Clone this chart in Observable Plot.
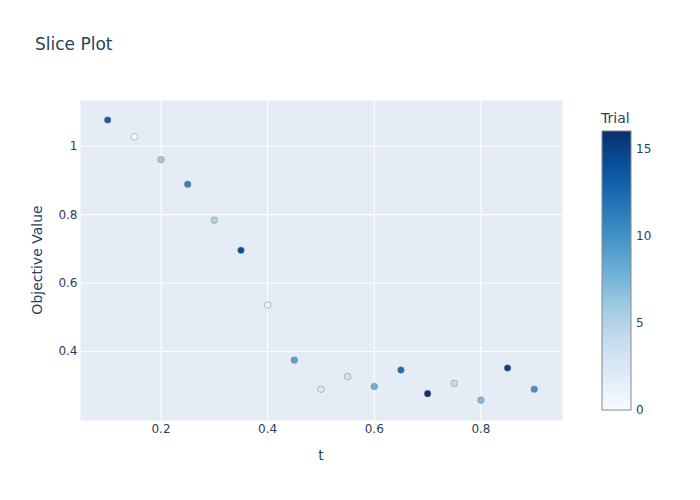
<!DOCTYPE html>
<html>
<head>
<meta charset="utf-8">
<script src="https://cdn.jsdelivr.net/npm/d3@7"></script>
<script src="https://cdn.jsdelivr.net/npm/@observablehq/plot@0.6"></script>
<style>
  html, body { margin: 0; padding: 0; background: white; }
  #wrap { position: relative; width: 700px; height: 500px; font-family: "DejaVu Sans", sans-serif; }
  #title { position: absolute; left: 35px; top: 34px; font-size: 17px; line-height: 20px; color: #2a3f5f; }
  #chart { position: absolute; left: 0; top: 0; }
</style>
</head>
<body>
<div id="wrap">
  <div id="chart"></div>
  <div id="title">Slice Plot</div>
</div>
<script>
const tValues = [0.10, 0.15, 0.20, 0.25, 0.30, 0.35, 0.40, 0.45, 0.50, 0.55, 0.60, 0.65, 0.70, 0.75, 0.80, 0.85, 0.90];
const objectiveValues = [1.077, 1.028, 0.961, 0.889, 0.784, 0.696, 0.536, 0.375, 0.290, 0.327, 0.298, 0.346, 0.277, 0.307, 0.258, 0.352, 0.290];
const trialNumbers = [13, 0, 6, 11, 5, 14, 1, 9, 2, 3, 8, 12, 16, 4, 7, 15, 10];
const xTicks = [0.2, 0.4, 0.6, 0.8];
const yTicks = [0.4, 0.6, 0.8, 1];
const colorTicks = [0, 5, 10, 15];
const bluesColors = ["rgb(247,251,255)", "rgb(222,235,247)", "rgb(198,219,239)", "rgb(158,202,225)", "rgb(107,174,214)", "rgb(66,146,198)", "rgb(33,113,181)", "rgb(8,81,156)", "rgb(8,48,107)"];

const data = tValues.map((t, i) => ({t, value: objectiveValues[i], trial: trialNumbers[i]}));
const trialMax = 16;
const colorDomain = bluesColors.map((_, i) => i * trialMax / (bluesColors.length - 1));

const W = 700, H = 500, mL = 80, mR = 138, mT = 100, mB = 80;
const textColor = "#2a3f5f";
const fontFam = "'DejaVu Sans', sans-serif";

const plot = Plot.plot({
  width: W, height: H,
  marginLeft: mL, marginRight: mR, marginTop: mT, marginBottom: mB,
  style: {fontFamily: fontFam, fontSize: "12px", color: textColor, background: "white"},
  x: {domain: [0.049, 0.953]},
  y: {domain: [0.1985, 1.134]},
  color: {type: "linear", domain: colorDomain, range: bluesColors, interpolate: "rgb"},
  marks: [
    Plot.frame({fill: "#E5ECF6", stroke: null}),
    Plot.gridX(xTicks, {stroke: "white", strokeOpacity: 1, strokeWidth: 1}),
    Plot.gridY(yTicks, {stroke: "white", strokeOpacity: 1, strokeWidth: 1}),
    Plot.axisX(xTicks, {tickSize: 0, tickPadding: 4, label: null, fill: textColor, tickFormat: d3.format("~g")}),
    Plot.axisY(yTicks, {tickSize: 0, tickPadding: 3, label: null, fill: textColor, tickFormat: d3.format("~g")}),
    Plot.dot(data, {x: "t", y: "value", fill: "trial", r: 3.3, stroke: "grey", strokeWidth: 0.5})
  ]
});
document.getElementById("chart").appendChild(plot);

const svg = d3.select(plot);

// Axis titles
svg.append("text").attr("x", mL + (W - mL - mR) / 2).attr("y", 455).attr("dy", "0.35em")
  .attr("text-anchor", "middle").attr("fill", textColor).attr("font-size", 14).text("t");
svg.append("text").attr("transform", `translate(37,${mT + (H - mT - mB) / 2}) rotate(-90)`).attr("dy", "0.35em")
  .attr("text-anchor", "middle").attr("fill", textColor).attr("font-size", 14).text("Objective Value");

// Colorbar
const colorScale = plot.scale("color");
const cbX = 602, cbW = 29, cbTop = 131, cbBottom = 410;
const cbY = d3.scaleLinear().domain([0, trialMax]).range([cbBottom, cbTop]);
const defs = svg.append("defs");
const grad = defs.append("linearGradient").attr("id", "cbgrad").attr("x1", 0).attr("y1", 1).attr("x2", 0).attr("y2", 0);
colorScale.domain.forEach((d, i) => {
  grad.append("stop").attr("offset", d / trialMax).attr("stop-color", colorScale.range[i]);
});
svg.append("rect").attr("x", cbX).attr("y", cbTop).attr("width", cbW).attr("height", cbBottom - cbTop)
  .attr("fill", "url(#cbgrad)").attr("stroke", "#888").attr("stroke-width", 1);
colorTicks.forEach(v => {
  svg.append("text").attr("x", cbX + cbW + 5).attr("y", cbY(v)).attr("dy", "0.35em")
    .attr("text-anchor", "start").attr("fill", textColor).attr("font-size", 12).text(v);
});
svg.append("text").attr("x", cbX - 1).attr("y", 118).attr("dy", "0.35em")
  .attr("text-anchor", "start").attr("fill", textColor).attr("font-size", 14).text("Trial");
</script>
</body>
</html>
